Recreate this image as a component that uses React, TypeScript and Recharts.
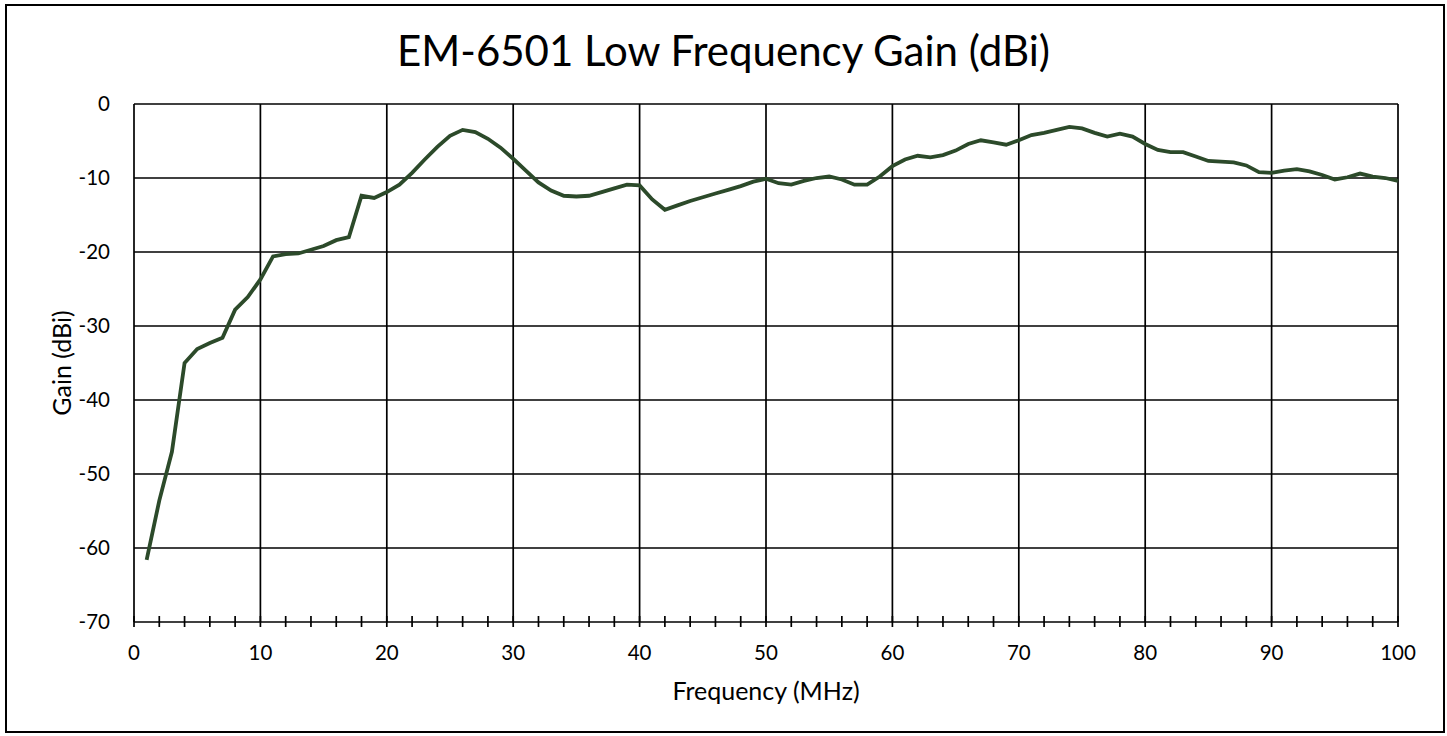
import React from 'react';
import { LineChart, Line, XAxis, YAxis, CartesianGrid } from 'recharts';

const frequencies: number[] = Array.from({ length: 100 }, (_, i) => i + 1);
const gains: number[] = [
  -61.6, -53.6, -47.0, -35.0, -33.1, -32.3, -31.6, -27.8, -26.1, -23.7,
  -20.6, -20.3, -20.2, -19.7, -19.2, -18.4, -18.0, -12.4, -12.7, -11.9,
  -10.9, -9.3, -7.5, -5.8, -4.3, -3.5, -3.8, -4.7, -5.9, -7.4,
  -9.0, -10.6, -11.7, -12.4, -12.5, -12.4, -11.9, -11.4, -10.9, -11.0,
  -12.9, -14.3, -13.7, -13.1, -12.6, -12.1, -11.6, -11.1, -10.5, -10.1,
  -10.7, -10.9, -10.4, -10.0, -9.8, -10.2, -10.9, -10.9, -9.8, -8.4,
  -7.5, -7.0, -7.2, -6.9, -6.3, -5.4, -4.9, -5.2, -5.5, -4.9,
  -4.2, -3.9, -3.5, -3.1, -3.3, -3.9, -4.4, -4.0, -4.4, -5.4,
  -6.2, -6.5, -6.5, -7.1, -7.7, -7.8, -7.9, -8.3, -9.2, -9.3,
  -9.0, -8.8, -9.1, -9.6, -10.2, -9.9, -9.4, -9.8, -10.0, -10.4,
];
const xTicks: number[] = Array.from({ length: 51 }, (_, i) => i * 2);
const xGrid: number[] = [10, 20, 30, 40, 50, 60, 70, 80, 90, 100];
const yTicks: number[] = [-70, -60, -50, -40, -30, -20, -10, 0];
const yGrid: number[] = [-60, -50, -40, -30, -20, -10, 0];

const data = frequencies.map((f, i) => ({ f, g: gains[i] }));

const FONT = 'Lato, "Open Sans", sans-serif';

const XTick = (props: any) => {
  const { x, y, payload } = props;
  const v = payload.value;
  return (
    <g>
      <line x1={x} x2={x} y1={y - 6} y2={y + 5} stroke="#000" strokeWidth={1.7} />
      {v % 10 === 0 && (
        <text x={x} y={y + 30} textAnchor="middle" dominantBaseline="central" fontFamily={FONT} fontSize={20.5} fill="#000">
          {v}
        </text>
      )}
    </g>
  );
};

export default function App() {
  return (
    <div style={{ position: 'absolute', left: 0, top: 0, width: 1447, height: 736, background: '#fff' }}>
      <div
        style={{
          position: 'absolute', left: 5, top: 4, width: 1440, height: 729,
          border: '2px solid #000', boxSizing: 'border-box',
        }}
      />
      <div
        style={{
          position: 'absolute', left: 0, top: 24, width: 1447, textAlign: 'center',
          fontFamily: FONT, fontSize: 42, lineHeight: '52px', color: '#000',
        }}
      >
        EM-6501 Low Frequency Gain (dBi)
      </div>
      <div style={{ position: 'absolute', left: 0, top: 0 }}>
        <LineChart width={1447} height={736} data={data} margin={{ top: 104, right: 49, bottom: 64, left: 74 }}>
          <CartesianGrid
            stroke="#000"
            strokeWidth={1.7}
            verticalValues={xGrid}
            horizontalValues={yGrid}
          />
          <XAxis
            dataKey="f"
            type="number"
            domain={[0, 100]}
            ticks={xTicks}
            interval={0}
            height={50}
            tickSize={0}
            tickMargin={0}
            tickLine={false}
            axisLine={{ stroke: '#000', strokeWidth: 1.7 }}
            tick={<XTick />}
            label={{ value: 'Frequency (MHz)', position: 'bottom', offset: 10, style: { fontFamily: FONT, fontSize: 25, fill: '#000' } }}
          />
          <YAxis
            type="number"
            domain={[-70, 0]}
            ticks={yTicks}
            interval={0}
            width={60}
            tickSize={0}
            tickMargin={24}
            tickLine={false}
            axisLine={{ stroke: '#000', strokeWidth: 1.7 }}
            tick={{ fontFamily: FONT, fontSize: 20.5, fill: '#000' }}
            label={{ value: 'Gain (dBi)', angle: -90, position: 'insideLeft', offset: -12, style: { fontFamily: FONT, fontSize: 25, fill: '#000', textAnchor: 'middle' } }}
          />
          <Line
            dataKey="g"
            type="linear"
            stroke="#2c4a2a"
            strokeWidth={3.8}
            dot={false}
            isAnimationActive={false}
          />
        </LineChart>
      </div>
    </div>
  );
}
